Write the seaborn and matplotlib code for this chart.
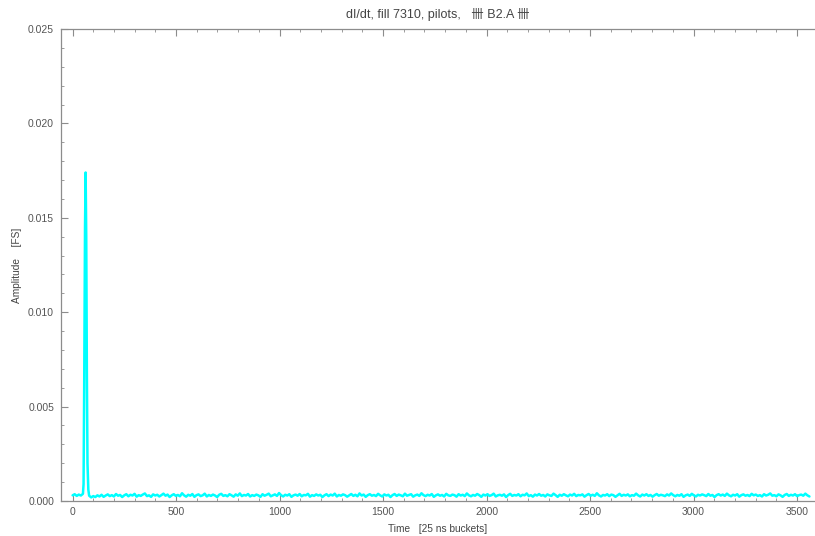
import numpy as np
import pandas as pd
import matplotlib
matplotlib.use("Agg")
import matplotlib.pyplot as plt
import seaborn as sns
from matplotlib.ticker import MultipleLocator

# ---- data ----
pre_bucket = [0, 10, 20, 30, 40, 50]
pre_amp = [0.00030, 0.00036, 0.00027, 0.00034, 0.00029, 0.00038]

peak_bucket = [53, 56, 60, 63, 66, 69, 72, 76, 80]
peak_amp = [0.0009, 0.0060, 0.0145, 0.0174, 0.0140, 0.0068, 0.0020, 0.0006, 0.00028]

baseline_amp = [
    0.00019, 0.00026, 0.00021, 0.00030, 0.00024, 0.00033, 0.00022, 0.00029, 0.00035, 0.00026,
    0.00031, 0.00024, 0.00037, 0.00028, 0.00032, 0.00021, 0.00030, 0.00036, 0.00025, 0.00033,
    0.00029, 0.00038, 0.00023, 0.00031, 0.00027, 0.00034, 0.00040, 0.00026, 0.00030, 0.00022,
    0.00035, 0.00029, 0.00033, 0.00024, 0.00031, 0.00039, 0.00028, 0.00034, 0.00021, 0.00030,
    0.00036, 0.00027, 0.00032, 0.00025, 0.00041, 0.00030, 0.00023, 0.00033, 0.00028, 0.00037,
    0.00022, 0.00031, 0.00035, 0.00026, 0.00030, 0.00039, 0.00024, 0.00032, 0.00027, 0.00034,
    0.00029, 0.00021, 0.00033, 0.00038, 0.00027, 0.00031, 0.00025, 0.00036, 0.00030, 0.00023,
    0.00035, 0.00028, 0.00040, 0.00026, 0.00032, 0.00029, 0.00037, 0.00024, 0.00031, 0.00027,
    0.00034, 0.00030, 0.00022, 0.00036, 0.00028, 0.00033, 0.00039, 0.00025, 0.00030, 0.00035,
    0.00027, 0.00042, 0.00031, 0.00024, 0.00033, 0.00029, 0.00036, 0.00022, 0.00030, 0.00034,
    0.00028, 0.00037, 0.00025, 0.00032, 0.00030, 0.00038, 0.00023, 0.00031, 0.00027, 0.00035,
    0.00029, 0.00033, 0.00021, 0.00030, 0.00036, 0.00026, 0.00034, 0.00029, 0.00039, 0.00024,
    0.00032, 0.00028, 0.00035, 0.00031, 0.00023, 0.00030, 0.00037, 0.00027, 0.00033, 0.00025,
    0.00040, 0.00029, 0.00034, 0.00022, 0.00031, 0.00036, 0.00028, 0.00032, 0.00026, 0.00038,
    0.00030, 0.00024, 0.00035, 0.00029, 0.00033, 0.00021, 0.00031, 0.00037, 0.00027, 0.00034,
    0.00030, 0.00025, 0.00039, 0.00028, 0.00032, 0.00036, 0.00023, 0.00030, 0.00034, 0.00027,
    0.00041, 0.00031, 0.00026, 0.00033, 0.00029, 0.00037, 0.00022, 0.00030, 0.00035, 0.00028,
    0.00032, 0.00024, 0.00038, 0.00030, 0.00027, 0.00034, 0.00031, 0.00023, 0.00036, 0.00029,
    0.00033, 0.00026, 0.00040, 0.00030, 0.00025, 0.00032, 0.00028, 0.00037, 0.00031, 0.00022,
    0.00034, 0.00029, 0.00036, 0.00027, 0.00031, 0.00039, 0.00024, 0.00030, 0.00033, 0.00028,
    0.00035, 0.00021, 0.00031, 0.00038, 0.00027, 0.00032, 0.00029, 0.00036, 0.00025, 0.00033,
    0.00030, 0.00040, 0.00026, 0.00031, 0.00023, 0.00034, 0.00029, 0.00037, 0.00028, 0.00032,
    0.00024, 0.00035, 0.00030, 0.00027, 0.00039, 0.00031, 0.00022, 0.00033, 0.00028, 0.00036,
    0.00030, 0.00025, 0.00034, 0.00029, 0.00038, 0.00026, 0.00032, 0.00030, 0.00035, 0.00023,
    0.00031, 0.00037, 0.00028, 0.00033, 0.00027, 0.00041, 0.00030, 0.00024, 0.00032, 0.00029,
    0.00036, 0.00026, 0.00034, 0.00031, 0.00022, 0.00030, 0.00038, 0.00027, 0.00033, 0.00029,
    0.00035, 0.00025, 0.00031, 0.00028, 0.00039, 0.00030, 0.00024, 0.00034, 0.00029, 0.00036,
    0.00027, 0.00032, 0.00023, 0.00031, 0.00037, 0.00028, 0.00033, 0.00030, 0.00026, 0.00035,
    0.00029, 0.00040, 0.00031, 0.00025, 0.00032, 0.00028, 0.00036, 0.00022, 0.00030, 0.00034,
    0.00027, 0.00038, 0.00030, 0.00024, 0.00033, 0.00029, 0.00035, 0.00031, 0.00026, 0.00037,
    0.00028, 0.00032, 0.00021, 0.00031, 0.00036, 0.00029, 0.00034, 0.00027, 0.00039, 0.00030,
    0.00025, 0.00033, 0.00029, 0.00036, 0.00023, 0.00031, 0.00035, 0.00028, 0.00032, 0.00026,
    0.00038, 0.00030, 0.00034, 0.00027, 0.00031, 0.00024, 0.00036, 0.00029, 0.00033, 0.00040,
    0.00028, 0.00031, 0.00025, 0.00035, 0.00030, 0.00022, 0.00032, 0.00037, 0.00027, 0.00033,
    0.00029, 0.00036, 0.00026, 0.00031, 0.00034, 0.00028, 0.00039, 0.00030, 0.00024,
]

x_ticks = [0, 500, 1000, 1500, 2000, 2500, 3000, 3500]
y_ticks = [0.000, 0.005, 0.010, 0.015, 0.020, 0.025]
title = "dI/dt, fill 7310, pilots,   卌 B2.A 卌"
xlabel = "Time   [25 ns buckets]"
ylabel = "Amplitude    [FS]"

# ---- assemble ----
baseline_bucket = np.linspace(90, 3560, len(baseline_amp))
df = pd.DataFrame({
    "bucket": np.concatenate([pre_bucket, peak_bucket, baseline_bucket]),
    "amp": np.concatenate([pre_amp, peak_amp, baseline_amp]),
}).sort_values("bucket")

sns.set_theme(style="white")
plt.rcParams["font.family"] = ["Liberation Sans", "Noto Sans CJK SC", "DejaVu Sans"]

fig = plt.figure(figsize=(8.15, 5.36), dpi=100)
ax = fig.add_axes([61 / 815, 1 - 501 / 536, (814 - 61) / 815, (501 - 29) / 536])

sns.lineplot(data=df, x="bucket", y="amp", ax=ax, color="#00FFFF", linewidth=1.8,
             sort=False)

ax.set_xlim(-56, 3582)
ax.set_ylim(0, 0.025)
ax.set_xticks(x_ticks)
ax.set_yticks(y_ticks)
ax.set_xticklabels([str(t) for t in x_ticks])
ax.set_yticklabels([f"{t:.3f}" for t in y_ticks])
ax.xaxis.set_minor_locator(MultipleLocator(100))
ax.yaxis.set_minor_locator(MultipleLocator(0.001))

grey = "#8c8c8c"
for side in ["left", "bottom", "top"]:
    ax.spines[side].set_color(grey)
    ax.spines[side].set_linewidth(0.9)
ax.spines["right"].set_visible(False)

ax.tick_params(which="major", direction="in", length=5, width=0.8, color=grey,
               labelsize=7.5, labelcolor="#555555", top=True, bottom=True, left=True,
               right=False)
ax.tick_params(which="minor", direction="in", length=2.5, width=0.6, color=grey,
               top=True, bottom=True, left=True, right=False)
ax.tick_params(axis="x", which="major", pad=4)
ax.tick_params(axis="y", which="major", pad=5)

ax.set_xlabel(xlabel, fontsize=7.3, color="#444444", labelpad=5)
ax.set_ylabel(ylabel, fontsize=7.3, color="#444444", labelpad=4)
ax.set_title(title, fontsize=9, color="#444444", pad=8)

fig.savefig("out.png", dpi=100, facecolor="white")
